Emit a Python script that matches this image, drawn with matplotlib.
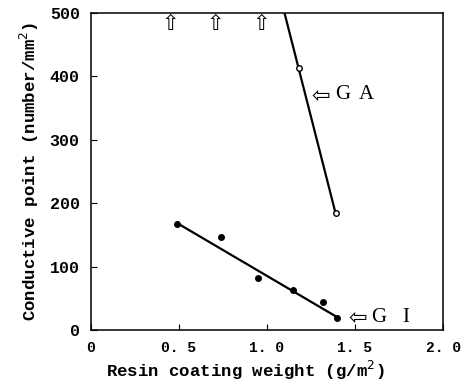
import numpy as np
import matplotlib.pyplot as plt

# GI (filled circles)
gi_x = [0.49, 0.74, 0.95, 1.15, 1.32, 1.40]
gi_y = [167, 147, 82, 63, 44, 19]
gi_line_x = [0.50, 1.40]
gi_line_y = [167, 20]

# GA (open circles)
ga_x = [1.18, 1.39]
ga_y = [413, 184]
ga_line_x = [1.10, 1.39]
ga_line_y = [500, 184]

# off-scale points (arrows at top)
up_x = [0.45, 0.705, 0.965]

xtick_vals = [0, 0.5, 1.0, 1.5, 2.0]
xtick_text = ['0', '0. 5', '1. 0', '1. 5', '2. 0']
ytick_vals = [0, 100, 200, 300, 400, 500]
ytick_text = ['0', '100', '200', '300', '400', '500']

mono = ['Liberation Mono', 'DejaVu Sans Mono']
serif = ['Liberation Serif', 'DejaVu Serif']
arrowfont = ['DejaVu Sans']

fig = plt.figure(figsize=(4.61, 3.85), dpi=100)
ax = fig.add_axes([0.197, 0.143, 0.764, 0.823])

ax.plot(gi_line_x, gi_line_y, color='black', lw=1.6)
ax.plot(gi_x, gi_y, 'o', color='black', ms=4)
ax.plot(ga_line_x, ga_line_y, color='black', lw=1.6)
ax.plot(ga_x, ga_y, 'o', mfc='white', mec='black', ms=4, mew=1)

for x in up_x:
    ax.text(x, 498, '\u21e7', ha='center', va='top', fontsize=15, family=arrowfont)

# labels for the two series
ax.text(1.255, 371, '\u21e6', ha='left', va='center', fontsize=16, family=arrowfont)
ax.text(1.39, 371, 'G', ha='left', va='center', fontsize=15, family=serif)
ax.text(1.52, 371, 'A', ha='left', va='center', fontsize=15, family=serif)
ax.text(1.46, 20, '\u21e6', ha='left', va='center', fontsize=16, family=arrowfont)
ax.text(1.59, 20, 'G', ha='left', va='center', fontsize=15, family=serif)
ax.text(1.77, 20, 'I', ha='left', va='center', fontsize=15, family=serif)

ax.set_xlim(0, 2.0)
ax.set_ylim(0, 500)
ax.set_xticks(xtick_vals)
ax.set_xticklabels(xtick_text, family=mono, fontweight='bold', fontsize=10.5)
ax.set_yticks(ytick_vals)
ax.set_yticklabels(ytick_text, family=mono, fontweight='bold', fontsize=12)
ax.tick_params(direction='in', length=4, width=0.8, pad=8)
for s in ax.spines.values():
    s.set_linewidth(1.1)

ax.set_xlabel('Resin coating weight (g/m$^2$)', family=mono, fontweight='bold',
              fontsize=12.5)
ax.set_ylabel('Conductive point (number/mm$^2$)', family=mono, fontweight='bold',
              fontsize=12.5, labelpad=6)
ax.xaxis.set_label_coords(0.44, -0.09)

fig.savefig('out.png', dpi=100)
